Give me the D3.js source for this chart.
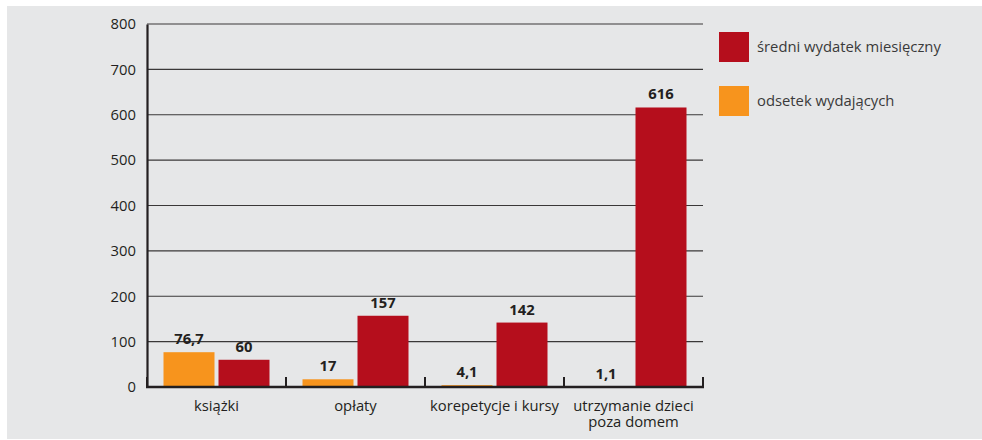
<!DOCTYPE html>
<html>
<head>
<meta charset="utf-8">
<script src="https://cdn.jsdelivr.net/npm/d3@7"></script>
<style>
body { margin: 0; background: #fff; }
text { font-family: "Open Sans", sans-serif; fill: #231f20; }
</style>
</head>
<body>
<script>
// data
var categories = ["książki", "opłaty", "korepetycje i kursy", "utrzymanie dzieci\npoza domem"];
var odsetek = [76.7, 17, 4.1, 1.1];
var wydatek = [60, 157, 142, 616];
var odsetekLabels = ["76,7", "17", "4,1", "1,1"];
var wydatekLabels = ["60", "157", "142", "616"];
var yTicks = [0, 100, 200, 300, 400, 500, 600, 700, 800];
var seriesNames = ["średni wydatek miesięczny", "odsetek wydających"];

var RED = "#b50e1c", ORANGE = "#f7941d";
var FS = "14.8px";

var svg = d3.select("body").append("svg")
	.attr("width", 982)
	.attr("height", 440);

// gray backdrop
svg.append("rect")
	.attr("x", 7).attr("y", 6)
	.attr("width", 975).attr("height", 433)
	.style("fill", "#e6e7e8");

var plotLeft = 147, plotRight = 703, plotTop = 24, plotBottom = 387;

var x = d3.scaleBand().domain(categories).range([plotLeft, plotRight]);
var y = d3.scaleLinear().domain([0, 800]).range([plotBottom, plotTop]);

//GRIDLINES
svg.append("g").selectAll("line")
	.data(yTicks.filter(function(d){ return d > 0 }))
	.enter().append("line")
	.attr("x1", plotLeft).attr("x2", plotRight)
	.attr("y1", function(d){ return y(d) }).attr("y2", function(d){ return y(d) })
	.style("stroke", "#3a3838").style("stroke-width", 1.2);

//Y AXIS
var yAxis = svg.append("g")
	.attr("transform", "translate(" + plotLeft + ",0)")
	.call(d3.axisLeft(y).tickValues(yTicks).tickSize(0).tickPadding(11));
yAxis.select(".domain").style("stroke", "#231f20").style("stroke-width", 2.2);
yAxis.selectAll("text").style("font-size", FS).style("font-family", "Open Sans, sans-serif").style("fill", "#231f20");

//BARS
var inner = 51, gap = 4;
var groups = svg.append("g").selectAll("g")
	.data(categories)
	.enter().append("g");

groups.append("rect")
	.attr("x", function(d){ return x(d) + x.bandwidth() / 2 - gap / 2 - inner })
	.attr("y", function(d, i){ return y(odsetek[i]) })
	.attr("width", inner)
	.attr("height", function(d, i){ return plotBottom - y(odsetek[i]) })
	.style("fill", ORANGE);

groups.append("rect")
	.attr("x", function(d){ return x(d) + x.bandwidth() / 2 + gap / 2 })
	.attr("y", function(d, i){ return y(wydatek[i]) })
	.attr("width", inner)
	.attr("height", function(d, i){ return plotBottom - y(wydatek[i]) })
	.style("fill", RED);

groups.append("text")
	.attr("x", function(d){ return x(d) + x.bandwidth() / 2 - gap / 2 - inner / 2 })
	.attr("y", function(d, i){ return y(odsetek[i]) - 8 })
	.attr("text-anchor", "middle")
	.style("font-size", FS).style("font-weight", "bold")
	.text(function(d, i){ return odsetekLabels[i] });

groups.append("text")
	.attr("x", function(d){ return x(d) + x.bandwidth() / 2 + gap / 2 + inner / 2 })
	.attr("y", function(d, i){ return y(wydatek[i]) - 8 })
	.attr("text-anchor", "middle")
	.style("font-size", FS).style("font-weight", "bold")
	.text(function(d, i){ return wydatekLabels[i] });

//X AXIS
svg.append("line")
	.attr("x1", plotLeft - 1).attr("x2", plotRight + 1)
	.attr("y1", plotBottom).attr("y2", plotBottom)
	.style("stroke", "#231f20").style("stroke-width", 2.5);

var bounds = categories.map(function(d){ return x(d) }).concat([plotRight]);
svg.append("g").selectAll("line")
	.data(bounds)
	.enter().append("line")
	.attr("x1", function(d){ return d }).attr("x2", function(d){ return d })
	.attr("y1", plotBottom - 10).attr("y2", plotBottom)
	.style("stroke", "#231f20").style("stroke-width", 2);

svg.append("g").selectAll("text")
	.data(categories)
	.enter().append("text")
	.attr("text-anchor", "middle")
	.style("font-size", FS)
	.each(function(d){
		var arr = d.split("\n");
		for (var i = 0; i < arr.length; i++) {
			d3.select(this).append("tspan")
				.attr("x", x(d) + x.bandwidth() / 2)
				.attr("y", 411 + i * 16)
				.text(arr[i]);
		}
	});

//LEGEND
var legend = svg.append("g").selectAll("g")
	.data(seriesNames)
	.enter().append("g")
	.attr("transform", function(d, i){ return "translate(719," + (32 + i * 54) + ")" });

legend.append("rect")
	.attr("width", 30).attr("height", 30)
	.style("fill", function(d, i){ return i ? ORANGE : RED });

legend.append("text")
	.attr("x", 38).attr("y", 20)
	.style("font-size", FS)
	.style("fill", "#3a3a3a")
	.text(function(d){ return d });
</script>
</body>
</html>
